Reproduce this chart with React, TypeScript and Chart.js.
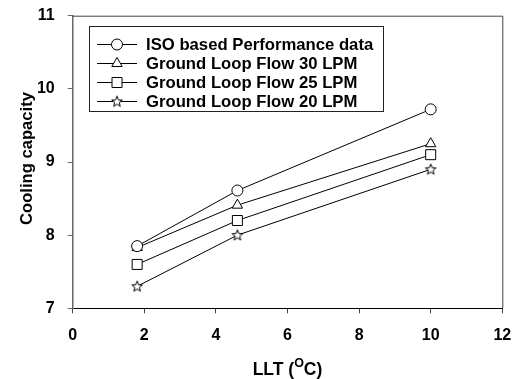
import React, { useEffect, useRef } from "react";
import { Chart, registerables } from "chart.js";

Chart.register(...registerables);

const llt = [1.8, 4.6, 10];
const isoData = [7.85, 8.61, 9.72];
const flow30 = [7.83, 8.41, 9.25];
const flow25 = [7.6, 8.2, 9.1];
const flow20 = [7.3, 8.0, 8.9];

const seriesLabels = [
  "ISO based Performance data",
  "Ground Loop Flow 30 LPM",
  "Ground Loop Flow 25 LPM",
  "Ground Loop Flow 20 LPM",
];
const markers = ["circle", "triangle", "rect", "star"];

const xTicks = [0, 2, 4, 6, 8, 10, 12];
const yTicks = [7, 8, 9, 10, 11];

const FONT = "'Liberation Sans', Arial, sans-serif";

function makeStar(): HTMLCanvasElement {
  const c = document.createElement("canvas");
  c.width = 14;
  c.height = 14;
  const ctx = c.getContext("2d")!;
  const cx = 7, cy = 7.3, ro = 5.6, ri = 2.4;
  ctx.beginPath();
  for (let i = 0; i < 10; i++) {
    const r = i % 2 === 0 ? ro : ri;
    const a = -Math.PI / 2 + (i * Math.PI) / 5;
    const px = cx + r * Math.cos(a);
    const py = cy + r * Math.sin(a);
    if (i === 0) ctx.moveTo(px, py);
    else ctx.lineTo(px, py);
  }
  ctx.closePath();
  ctx.fillStyle = "#fff";
  ctx.fill();
  ctx.strokeStyle = "#000";
  ctx.lineWidth = 1;
  ctx.stroke();
  return c;
}

function drawMarker(ctx: CanvasRenderingContext2D, kind: string, x: number, y: number, star: HTMLCanvasElement) {
  ctx.save();
  ctx.fillStyle = "#fff";
  ctx.strokeStyle = "#000";
  ctx.lineWidth = 1;
  if (kind === "star") {
    ctx.drawImage(star, x - star.width / 2, y - star.height / 2);
    ctx.restore();
    return;
  }
  ctx.beginPath();
  if (kind === "circle") {
    ctx.arc(x, y, 5.5, 0, Math.PI * 2);
  } else if (kind === "triangle") {
    const r = 6;
    for (let i = 0; i < 3; i++) {
      const a = (i * 2 * Math.PI) / 3;
      const px = x + Math.sin(a) * r;
      const py = y - Math.cos(a) * r;
      if (i === 0) ctx.moveTo(px, py);
      else ctx.lineTo(px, py);
    }
    ctx.closePath();
  } else if (kind === "rect") {
    const s = 5;
    ctx.rect(x - s, y - s, 2 * s, 2 * s);
  }
  ctx.fill();
  ctx.stroke();
  ctx.restore();
}

export default function App() {
  const ref = useRef<HTMLCanvasElement | null>(null);

  useEffect(() => {
    if (!ref.current) return;
    const star = makeStar();
    const allSeries = [isoData, flow30, flow25, flow20];
    const pointStyles: any[] = ["circle", "triangle", "rect", star];
    const radii = [5.5, 6, 7.07, 6];

    const overlay = {
      id: "overlay",
      afterDraw(chart: any) {
        const ctx: CanvasRenderingContext2D = chart.ctx;
        const a = chart.chartArea;
        ctx.save();
        // frame top and right
        ctx.strokeStyle = "#444";
        ctx.lineWidth = 1;
        ctx.beginPath();
        ctx.moveTo(a.left, a.top + 0.5);
        ctx.lineTo(a.right + 0.5, a.top + 0.5);
        ctx.lineTo(a.right + 0.5, a.bottom);
        ctx.stroke();

        // legend
        ctx.strokeStyle = "#222";
        ctx.strokeRect(89.5, 26.5, 294, 85);
        ctx.font = `bold 16.7px ${FONT}`;
        ctx.fillStyle = "#000";
        ctx.textBaseline = "middle";
        ctx.textAlign = "left";
        for (let i = 0; i < seriesLabels.length; i++) {
          const y = 44 + i * 19;
          ctx.beginPath();
          ctx.strokeStyle = "#000";
          ctx.moveTo(97, y + 0.5);
          ctx.lineTo(137, y + 0.5);
          ctx.stroke();
          drawMarker(ctx, markers[i], 117, y + 0.5, star);
          ctx.fillStyle = "#000";
          ctx.fillText(seriesLabels[i], 146, y + 1);
        }

        // x title with superscript
        const cx = (a.left + a.right) / 2;
        const base = 375;
        ctx.textBaseline = "alphabetic";
        const f1 = `bold 17.5px ${FONT}`;
        const f2 = `bold 12.5px ${FONT}`;
        ctx.font = f1;
        const p1 = "LLT (";
        const p3 = "C)";
        const w1 = ctx.measureText(p1).width;
        const w3 = ctx.measureText(p3).width;
        ctx.font = f2;
        const w2 = ctx.measureText("O").width;
        let x = cx - (w1 + w2 + w3) / 2;
        ctx.font = f1;
        ctx.fillText(p1, x, base);
        x += w1;
        ctx.font = f2;
        ctx.fillText("O", x, base - 8);
        x += w2;
        ctx.font = f1;
        ctx.fillText(p3, x, base);

        // y title
        ctx.save();
        ctx.translate(27, 158.5);
        ctx.rotate(-Math.PI / 2);
        ctx.textAlign = "center";
        ctx.textBaseline = "middle";
        ctx.font = `bold 16.6px ${FONT}`;
        ctx.fillText("Cooling capacity", 0, 0);
        ctx.restore();

        ctx.restore();
      },
    };

    const chart = new Chart(ref.current, {
      type: "scatter",
      data: {
        datasets: allSeries.map((vals, i) => ({
          label: seriesLabels[i],
          data: llt.map((xv, j) => ({ x: xv, y: vals[j] })),
          showLine: true,
          borderColor: "#000",
          borderWidth: 1,
          backgroundColor: "#fff",
          pointStyle: pointStyles[i],
          pointRadius: radii[i],
          pointBorderColor: "#000",
          pointBackgroundColor: "#fff",
          pointBorderWidth: 1,
          order: i,
        })),
      },
      options: {
        animation: false,
        responsive: true,
        maintainAspectRatio: false,
        layout: { padding: { left: 0, right: 15.7, top: 15.7, bottom: 0 } },
        plugins: {
          legend: { display: false },
          tooltip: { enabled: false },
        },
        scales: {
          x: {
            type: "linear",
            min: 0,
            max: 12,
            afterBuildTicks: (s: any) => {
              s.ticks = xTicks.map((v) => ({ value: v }));
            },
            afterFit: (s: any) => {
              s.height = 70.7;
              s.paddingLeft = 0;
              s.paddingRight = 0;
            },
            ticks: {
              color: "#000",
              font: { family: FONT, size: 16, weight: "bold" },
              padding: 13,
              maxRotation: 0,
            },
            grid: {
              drawOnChartArea: false,
              drawTicks: true,
              tickLength: 5,
              color: "#444",
            },
            border: { color: "#000", width: 1 },
          },
          y: {
            type: "linear",
            min: 7,
            max: 11,
            afterBuildTicks: (s: any) => {
              s.ticks = yTicks.map((v) => ({ value: v }));
            },
            afterFit: (s: any) => {
              s.width = 72.7;
              s.paddingTop = 0;
              s.paddingBottom = 0;
            },
            ticks: {
              color: "#000",
              font: { family: FONT, size: 16, weight: "bold" },
              padding: 13,
            },
            grid: {
              drawOnChartArea: false,
              drawTicks: true,
              tickLength: 5,
              color: "#666",
            },
            border: { color: "#666", width: 1.5 },
          },
        },
      },
      plugins: [overlay],
    } as any);

    return () => chart.destroy();
  }, []);

  return (
    <div style={{ position: "absolute", left: 0, top: 0, width: 518, height: 379, background: "#fff" }}>
      <canvas ref={ref} />
    </div>
  );
}
